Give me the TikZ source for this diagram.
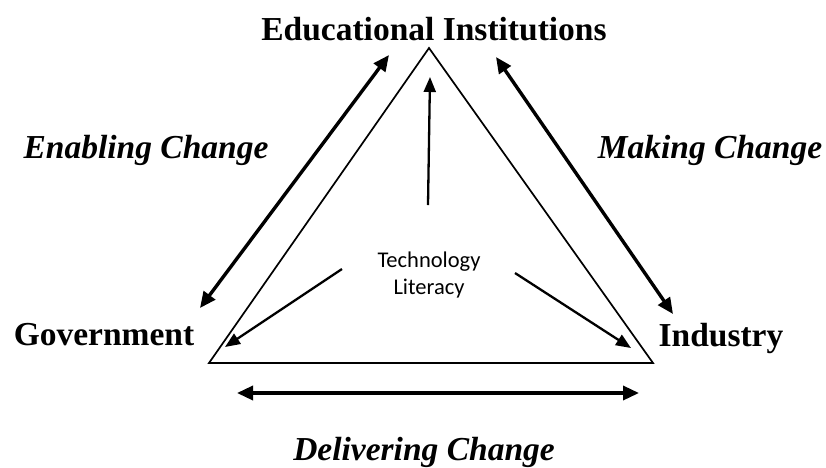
\documentclass[tikz,border=0pt]{standalone}
\usepackage{fontspec}
\setmainfont{Liberation Serif}
\newfontfamily\calfont{Carlito}
\usetikzlibrary{arrows.meta}
\tikzset{
  lbl/.style={font=\fontsize{33.5}{38}\selectfont\bfseries, anchor=base, inner sep=0pt},
  ilbl/.style={font=\fontsize{33.5}{38}\selectfont\bfseries\itshape, anchor=base, inner sep=0pt},
  bigarrow/.style={line width=3.4pt, {Triangle[length=16pt,width=14pt]}-{Triangle[length=16pt,width=14pt]}},
  smallarrow/.style={line width=2.3pt, -{Triangle[length=15pt,width=12pt]}},
  tri/.style={line width=1.7pt, line join=miter}
}
\begin{document}
\begin{tikzpicture}[x=1pt,y=-1pt]
\useasboundingbox (0,0) rectangle (826,467);
\fill[white] (0,0) rectangle (826,467);
% labels
\node[lbl] (edu) at (434,40) {Educational Institutions};
\node[lbl] (gov) at (104,345) {Government};
\node[lbl] (ind) at (721,346) {Industry};
\node[ilbl] (enab) at (146,158) {Enabling Change};
\node[ilbl] (mak) at (710,158) {Making Change};
\node[ilbl] (del) at (424,460) {Delivering Change};
\node[font=\calfont\fontsize{22.5}{27}\selectfont, align=center, inner sep=0pt] (tech) at (429,275) {Technology\\Literacy};
% triangle
\coordinate (A) at (429,48);
\coordinate (B) at (209,363);
\coordinate (C) at (653,363);
\draw[tri] (A) -- (B) -- (C) -- cycle;
% outer arrows
\coordinate (l1) at (200,308);
\coordinate (l2) at (389,55);
\coordinate (r1) at (496,57);
\coordinate (r2) at (673,314);
\coordinate (b1) at (237,393);
\coordinate (b2) at (639,393);
\draw[bigarrow] (l1) -- (l2);
\draw[bigarrow] (r1) -- (r2);
\draw[bigarrow] (b1) -- (b2);
% inner arrows
\coordinate (tUp) at (428,205);
\coordinate (tUpEnd) at (430,77);
\coordinate (tL) at (342,269);
\coordinate (tLEnd) at (225,347);
\coordinate (tR) at (515,273);
\coordinate (tREnd) at (631,348);
\draw[smallarrow] (tUp) -- (tUpEnd);
\draw[smallarrow] (tL) -- (tLEnd);
\draw[smallarrow] (tR) -- (tREnd);
\end{tikzpicture}
\end{document}
